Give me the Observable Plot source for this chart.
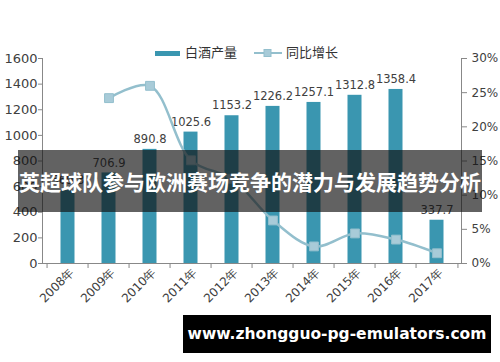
<!DOCTYPE html>
<html>
<head>
<meta charset="utf-8">
<script src="https://cdn.jsdelivr.net/npm/d3@7"></script>
<script src="https://cdn.jsdelivr.net/npm/@observablehq/plot@0.6"></script>
<style>
  html, body { margin: 0; padding: 0; background: #fff; }
  #wrap { position: relative; width: 500px; height: 362px; overflow: hidden; font-family: "DejaVu Sans", sans-serif; }
  #chart { position: absolute; left: 0; top: 0; }
  #chart g[aria-label="y-axis tick"], #chart g[aria-label="x-axis tick"] { stroke: #888; }
  #chart g[aria-label="y-axis tick label"], #chart g[aria-label="x-axis tick label"] { fill: #404040; }
  .legend { position: absolute; top: 43px; left: 0; height: 18px; font-family: "Noto Sans CJK SC", sans-serif; font-size: 13px; color: #333; }
  .legend .item { position: absolute; top: 0; white-space: nowrap; line-height: 18px; }
  .banner { position: absolute; left: 18px; top: 150px; width: 464px; height: 62px; background: rgba(16,16,16,0.66);
            color: #fff; font-family: "Noto Sans CJK SC", sans-serif; font-weight: 700; font-size: 21px; line-height: 62px; text-align: center; white-space: nowrap; }
  .url { position: absolute; left: 183px; top: 315px; width: 308px; height: 38px; background: #000; color: #fff;
         font-family: "DejaVu Sans", sans-serif; font-weight: 700; font-size: 15.5px; line-height: 38px; text-align: center; white-space: nowrap; }
</style>
</head>
<body>
<div id="wrap">
  <div id="chart"></div>
  <div class="legend">
    <div class="item" style="left:155px;"><span style="display:inline-block;width:25px;height:5px;background:#3a96b0;vertical-align:middle;margin-right:5px;"></span><span id="lg1"></span></div>
    <div class="item" style="left:254px;"><svg width="28" height="10" style="vertical-align:middle;margin-right:4px;"><line x1="0" y1="5" x2="28" y2="5" stroke="#93bfcd" stroke-width="2"/><rect x="10" y="1.5" width="7" height="7" fill="#a8cbd8" stroke="#93bfcd"/></svg><span id="lg2"></span></div>
  </div>
  <div class="banner" id="banner"></div>
  <div class="url" id="url"></div>
</div>
<script>
// ---- data ----
const years = ["2008年","2009年","2010年","2011年","2012年","2013年","2014年","2015年","2016年","2017年"];
const output = [569.3, 706.9, 890.8, 1025.6, 1153.2, 1226.2, 1257.1, 1312.8, 1358.4, 337.7];
const growth = [null, 24.2, 26.0, 15.1, 12.4, 6.3, 2.5, 4.4, 3.5, 1.5];
const leftTicks = [0, 200, 400, 600, 800, 1000, 1200, 1400, 1600];
const rightTicks = [0, 5, 10, 15, 20, 25, 30];
const seriesNames = ["白酒产量", "同比增长"];
const titleText = "英超球队参与欧洲赛场竞争的潜力与发展趋势分析";
const urlText = "www.zhongguo-pg-emulators.com";

// ---- layout ----
const W = 500, H = 362, ML = 42, MR = 39, MT = 58, MB = 99;
const step = (W - ML - MR) / years.length;
const yMax = leftTicks[leftTicks.length - 1];
const k = yMax / rightTicks[rightTicks.length - 1]; // percent -> left-axis units

const rows = years.map((y, i) => ({year: y, output: output[i], growth: growth[i]}));
const lineRows = rows.filter(d => d.growth != null);

const chart = Plot.plot({
  width: W, height: H,
  marginLeft: ML, marginRight: MR, marginTop: MT, marginBottom: MB,
  x: {type: "band", domain: years, padding: 0},
  y: {domain: [0, yMax]},
  style: {fontFamily: "DejaVu Sans, sans-serif", fontSize: "12px", background: "transparent", color: "#404040"},
  marks: [
    Plot.barY(rows, {x: "year", y: "output", fill: "#3a96b0", insetLeft: 13.5, insetRight: 13.5}),
    Plot.text(rows, {x: "year", y: "output", text: d => d.output.toFixed(1), dy: -10, fontSize: 11.5, fill: "#404040"}),
    Plot.lineY(lineRows, {x: "year", y: d => d.growth * k, curve: "catmull-rom", stroke: "#93bfcd", strokeWidth: 2.5}),
    Plot.dot(lineRows, {x: "year", y: d => d.growth * k, symbol: "square", r: 5, fill: "#a8cbd8", stroke: "#93bfcd", strokeWidth: 1}),
    Plot.ruleY([0], {stroke: "#888", strokeWidth: 1.2}),
    Plot.frame({anchor: "left", stroke: "#888"}),
    Plot.frame({anchor: "right", stroke: "#888"}),
    Plot.axisY({anchor: "left", ticks: leftTicks, tickFormat: d => String(d), tickSize: 4, tickPadding: 1, fontSize: 13, label: null}),
    Plot.axisY({anchor: "right", ticks: rightTicks.map(p => p * k), tickFormat: v => Math.round(v / k) + "%", tickSize: 5, tickPadding: 5, fontSize: 12, label: null}),
    Plot.axisX({tickSize: 5, tickFormat: () => "", dx: -step / 2, label: null}),
    Plot.axisX({ticks: [years[years.length - 1]], tickSize: 5, tickFormat: () => "", dx: step / 2, label: null}),
    Plot.axisX({tickSize: 0, tickRotate: -45, tickPadding: 7, fontSize: 12, label: null, dx: 4})
  ]
});
document.getElementById("chart").appendChild(chart);
document.getElementById("lg1").textContent = seriesNames[0];
document.getElementById("lg2").textContent = seriesNames[1];
document.getElementById("banner").textContent = titleText;
document.getElementById("url").textContent = urlText;
</script>
</body>
</html>
